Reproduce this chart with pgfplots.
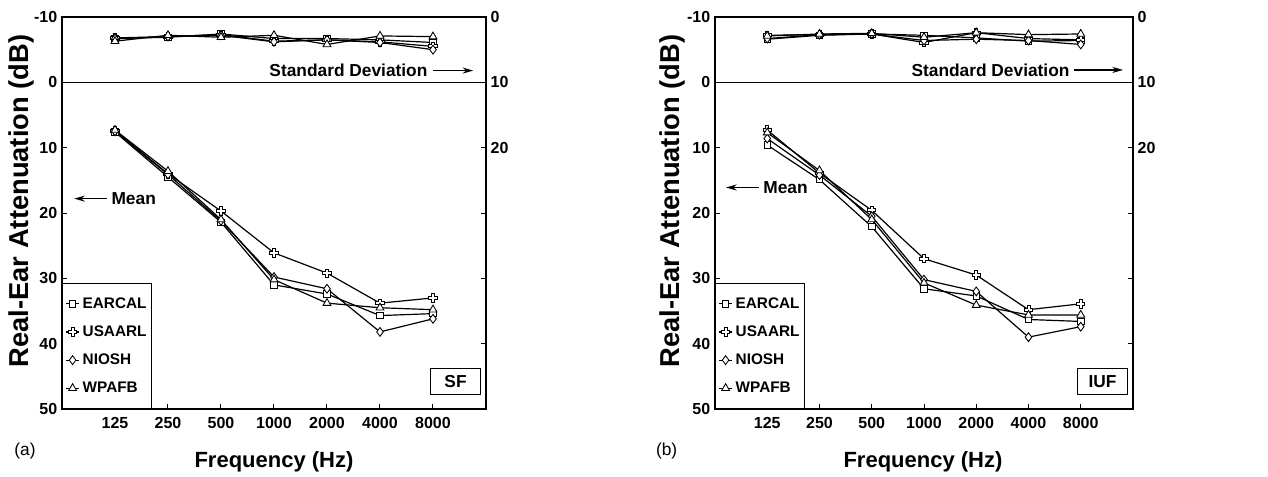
\documentclass[border=0pt]{standalone}
\usepackage{fontspec}
\setmainfont{Liberation Sans}
\usepackage{pgfplots}
\usepackage{pgfplotstable}
\pgfplotsset{compat=1.18}
\usetikzlibrary{arrows.meta}

\pgfdeclareplotmark{ocross}{%
 \pgfpathmoveto{\pgfqpoint{-0.36\pgfplotmarksize}{\pgfplotmarksize}}%
 \pgfpathlineto{\pgfqpoint{0.36\pgfplotmarksize}{\pgfplotmarksize}}%
 \pgfpathlineto{\pgfqpoint{0.36\pgfplotmarksize}{0.36\pgfplotmarksize}}%
 \pgfpathlineto{\pgfqpoint{\pgfplotmarksize}{0.36\pgfplotmarksize}}%
 \pgfpathlineto{\pgfqpoint{\pgfplotmarksize}{-0.36\pgfplotmarksize}}%
 \pgfpathlineto{\pgfqpoint{0.36\pgfplotmarksize}{-0.36\pgfplotmarksize}}%
 \pgfpathlineto{\pgfqpoint{0.36\pgfplotmarksize}{-\pgfplotmarksize}}%
 \pgfpathlineto{\pgfqpoint{-0.36\pgfplotmarksize}{-\pgfplotmarksize}}%
 \pgfpathlineto{\pgfqpoint{-0.36\pgfplotmarksize}{-0.36\pgfplotmarksize}}%
 \pgfpathlineto{\pgfqpoint{-\pgfplotmarksize}{-0.36\pgfplotmarksize}}%
 \pgfpathlineto{\pgfqpoint{-\pgfplotmarksize}{0.36\pgfplotmarksize}}%
 \pgfpathlineto{\pgfqpoint{-0.36\pgfplotmarksize}{0.36\pgfplotmarksize}}%
 \pgfpathclose
 \pgfusepathqfillstroke
}

\pgfplotstableread{
x EARCAL USAARL NIOSH WPAFB
0 7.6 7.4 7.5 7.3
1 14.5 14.0 14.1 13.6
2 21.4 19.7 21.2 21.0
3 31.0 26.1 29.8 30.2
4 32.4 29.2 31.6 33.8
5 35.7 33.8 38.2 34.5
6 35.4 33.0 36.2 34.8
}\sfmean
\pgfplotstableread{
x EARCAL USAARL NIOSH WPAFB
0 3.3 3.2 3.3 3.7
1 3.1 3.0 3.0 2.8
2 2.6 2.7 2.8 3.1
3 3.3 3.7 3.8 2.8
4 3.3 3.5 3.5 4.2
5 3.5 3.8 3.9 2.9
6 3.9 4.5 5.0 3.0
}\sfsd
\pgfplotstableread{
x EARCAL USAARL NIOSH WPAFB
0 9.6 7.3 8.6 7.7
1 14.9 13.9 14.2 13.5
2 22.1 19.6 20.5 21.0
3 31.6 27.0 30.2 30.7
4 32.7 29.5 32.0 34.1
5 36.3 34.8 39.0 35.6
6 36.6 33.9 37.4 35.6
}\iufmean
\pgfplotstableread{
x EARCAL USAARL NIOSH WPAFB
0 3.4 2.8 3.3 2.9
1 2.8 2.7 2.7 2.6
2 2.6 2.6 2.6 2.5
3 2.8 3.9 3.6 3.1
4 3.2 2.4 3.4 2.4
5 3.7 3.3 3.6 2.7
6 3.6 3.5 4.2 2.6
}\iufsd

\newcommand\tickfont{\bfseries\fontsize{12}{14}\selectfont}
\newcommand\notefont{\bfseries\fontsize{13}{15}\selectfont}

\pgfplotsset{
  earcal/.style={mark=square*, mark size=2.4pt},
  usaarl/.style={mark=ocross, mark size=3.1pt},
  niosh/.style={mark=diamond*, mark size=3.3pt},
  wpafb/.style={mark=triangle*, mark size=3.4pt},
  common/.style={
    scale only axis, height=294pt,
    xmin=-1, xmax=7, y dir=reverse,
    tick align=inside, major tick length=4pt,
    axis line style={line width=0.9pt},
    tick style={line width=0.75pt, black},
    ticklabel style={font=\tickfont},
    every axis plot/.append style={black, line width=0.9pt,
      mark options={fill=white, solid, line width=0.65pt}},
    clip=false,
  },
  mainax/.style={common,
    ymin=-10, ymax=50,
    xtick={0,...,6}, xticklabels={125,250,500,1000,2000,4000,8000},
    xticklabel style={yshift=-2.5pt},
    ytick={-10,0,10,20,30,40,50}, yticklabels={-10,0,10,20,30,40,50},
    xtick pos=lower, ytick pos=both, yticklabel pos=left,
    legend cell align=left,
    legend image code/.code={\draw[mark repeat=2,mark phase=2]
      plot coordinates {(0cm,0cm)(0.18cm,0cm)(0.36cm,0cm)};},
    legend style={at={(0,0)}, anchor=south west, draw=black, line width=0.75pt,
      font=\bfseries\fontsize{11.5}{13}\selectfont,
      inner xsep=2pt, inner ysep=8.5pt, row sep=7.6pt,
      nodes={inner xsep=2pt}},
  },
  sdax/.style={common,
    ymin=0, ymax=60,
    axis x line=none, axis y line*=right,
    ytick={0,10,20}, yticklabels={0,10,20},
  },
}

\begin{document}
\begin{tikzpicture}[x=1pt,y=1pt]
\useasboundingbox (0,0) rectangle (951,357.75);

% ---------- (a) SF ----------
\begin{axis}[mainax, width=318pt, at={(46.5pt,51pt)}, anchor=south west]
  \addplot[earcal] table[x=x,y=EARCAL]{\sfmean};
  \addplot[usaarl] table[x=x,y=USAARL]{\sfmean};
  \addplot[niosh] table[x=x,y=NIOSH]{\sfmean};
  \addplot[wpafb] table[x=x,y=WPAFB]{\sfmean};
  \legend{EARCAL,USAARL,NIOSH,WPAFB}
  \draw[line width=0.75pt] (axis cs:-1,0) -- (axis cs:7,0);
  \node[anchor=east, font=\notefont, inner sep=0pt] at (axis cs:5.9,-1.8) {Standard Deviation};
  \draw[-{Stealth[length=8pt,width=4.5pt]}, line width=1.2pt] (axis cs:6.0,-1.8) -- (axis cs:6.76,-1.8);
  \draw[{Stealth[length=8pt,width=4.5pt]}-, line width=1.2pt] (axis cs:-0.77,17.8) -- (axis cs:-0.15,17.8);
  \node[anchor=west, font=\notefont, inner sep=0pt] at (axis cs:-0.07,17.8) {Mean};
  \node[draw, line width=0.75pt, anchor=south east, minimum width=37pt, minimum height=19pt,
        inner sep=0pt, font=\notefont] at (axis cs:6.9,47.8) {SF};
\end{axis}
\begin{axis}[sdax, width=318pt, at={(46.5pt,51pt)}, anchor=south west]
  \addplot[earcal] table[x=x,y=EARCAL]{\sfsd};
  \addplot[usaarl] table[x=x,y=USAARL]{\sfsd};
  \addplot[niosh] table[x=x,y=NIOSH]{\sfsd};
  \addplot[wpafb] table[x=x,y=WPAFB]{\sfsd};
\end{axis}

% ---------- (b) IUF ----------
\begin{axis}[mainax, width=313.5pt, at={(536.25pt,51pt)}, anchor=south west]
  \addplot[earcal] table[x=x,y=EARCAL]{\iufmean};
  \addplot[usaarl] table[x=x,y=USAARL]{\iufmean};
  \addplot[niosh] table[x=x,y=NIOSH]{\iufmean};
  \addplot[wpafb] table[x=x,y=WPAFB]{\iufmean};
  \legend{EARCAL,USAARL,NIOSH,WPAFB}
  \draw[line width=0.75pt] (axis cs:-1,0) -- (axis cs:7,0);
  \node[anchor=east, font=\notefont, inner sep=0pt] at (axis cs:5.79,-1.9) {Standard Deviation};
  \draw[-{Stealth[length=8pt,width=4.5pt]}, line width=1.2pt] (axis cs:5.87,-1.9) -- (axis cs:6.81,-1.9);
  \draw[{Stealth[length=8pt,width=4.5pt]}-, line width=1.2pt] (axis cs:-0.79,16.1) -- (axis cs:-0.16,16.1);
  \node[anchor=west, font=\notefont, inner sep=0pt] at (axis cs:-0.08,16.1) {Mean};
  \node[draw, line width=0.75pt, anchor=south east, minimum width=37pt, minimum height=19pt,
        inner sep=0pt, font=\notefont] at (axis cs:6.9,47.8) {IUF};
\end{axis}
\begin{axis}[sdax, width=313.5pt, at={(536.25pt,51pt)}, anchor=south west]
  \addplot[earcal] table[x=x,y=EARCAL]{\iufsd};
  \addplot[usaarl] table[x=x,y=USAARL]{\iufsd};
  \addplot[niosh] table[x=x,y=NIOSH]{\iufsd};
  \addplot[wpafb] table[x=x,y=WPAFB]{\iufsd};
\end{axis}

% ---------- outer labels ----------
\node[rotate=90, font=\bfseries\fontsize{20.5}{23}\selectfont] at (15.75,207) {Real-Ear Attenuation (dB)};
\node[rotate=90, font=\bfseries\fontsize{20.5}{23}\selectfont] at (504,207) {Real-Ear Attenuation (dB)};
\node[font=\bfseries\fontsize{16.5}{19}\selectfont] at (205.5,11.25) {Frequency (Hz)};
\node[font=\bfseries\fontsize{16.5}{19}\selectfont] at (692.25,11.25) {Frequency (Hz)};
\node[font=\fontsize{13}{15}\selectfont] at (18.75,19.5) {(a)};
\node[font=\fontsize{13}{15}\selectfont] at (500,19.5) {(b)};
\end{tikzpicture}
\end{document}
